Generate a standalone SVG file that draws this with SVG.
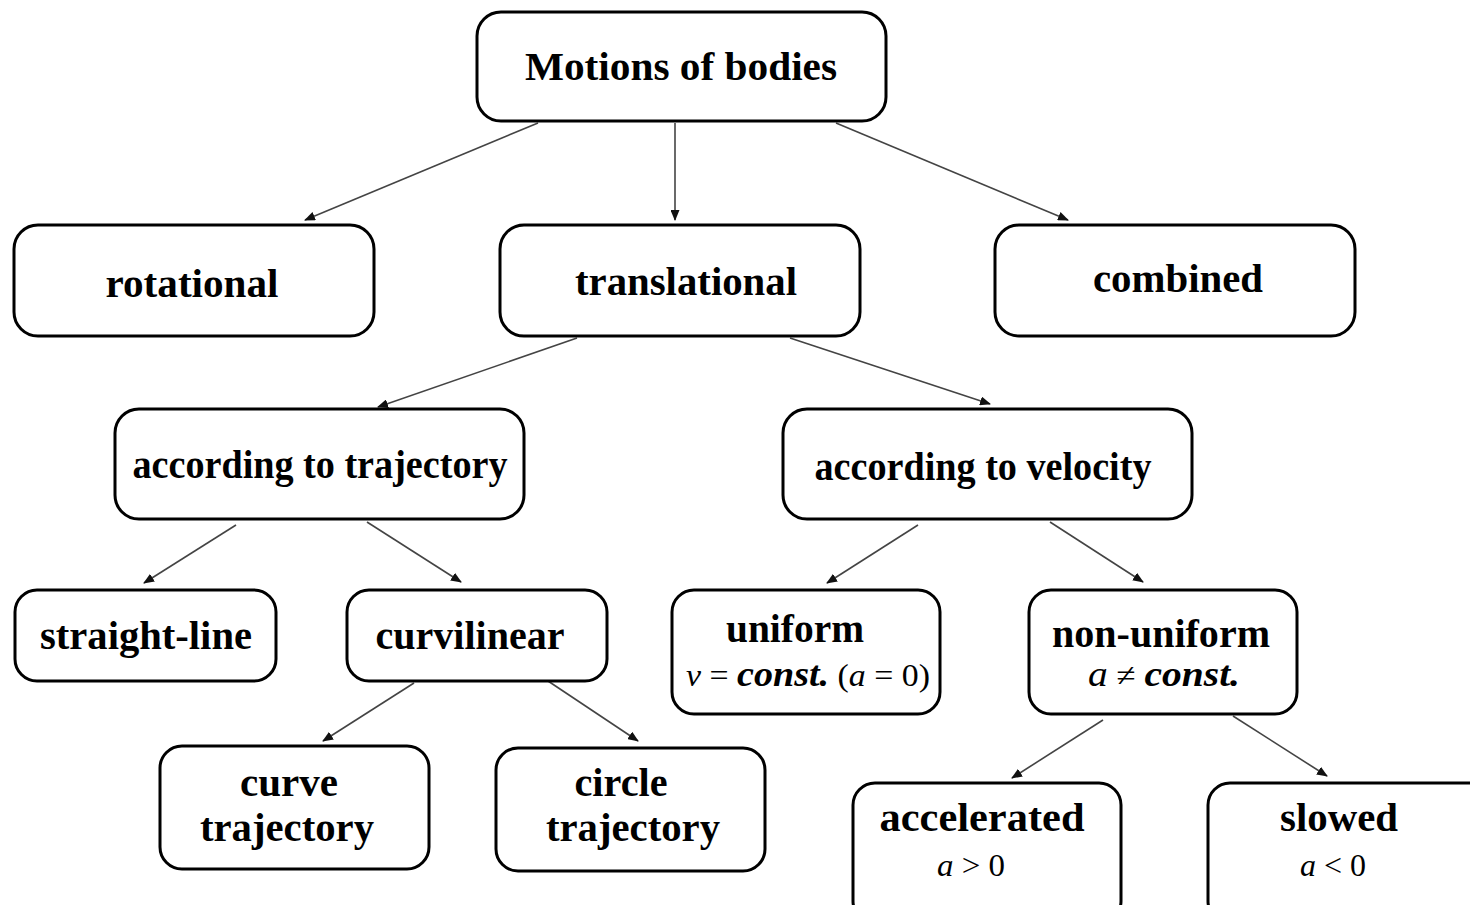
<svg xmlns="http://www.w3.org/2000/svg" width="1470" height="905" viewBox="0 0 1470 905">
<defs>
<marker id="ah" markerWidth="11" markerHeight="9" refX="10" refY="4.5" orient="auto" markerUnits="userSpaceOnUse">
<path d="M0,0 L11,4.5 L0,9 Z" fill="#111"/>
</marker>
<style>
.box{fill:#fff;stroke:#000;stroke-width:3}
.t{font-family:'Liberation Serif',serif;font-weight:bold;font-size:40px;fill:#000;text-anchor:middle}
.f{font-family:'Liberation Serif',serif;font-size:32px;fill:#000}
.i{font-style:italic}
.bi{font-style:italic;font-weight:bold}
.c{stroke:#444;stroke-width:1.6;fill:none;marker-end:url(#ah)}
</style>
</defs>
<rect width="1470" height="905" fill="#fff"/>
<g id="connectors">
<line class="c" x1="538" y1="123" x2="305" y2="220"/>
<line class="c" x1="675" y1="123" x2="675" y2="220"/>
<line class="c" x1="836" y1="123" x2="1068" y2="220"/>
<line class="c" x1="577" y1="338" x2="378" y2="407"/>
<line class="c" x1="790" y1="338" x2="990" y2="404"/>
<line class="c" x1="236" y1="525" x2="144" y2="583"/>
<line class="c" x1="367" y1="522" x2="461" y2="582"/>
<line class="c" x1="918" y1="525" x2="827" y2="583"/>
<line class="c" x1="1050" y1="522" x2="1143" y2="582"/>
<line class="c" x1="414" y1="683" x2="323" y2="741"/>
<line class="c" x1="548" y1="681" x2="638" y2="741"/>
<line class="c" x1="1103" y1="720" x2="1012" y2="778"/>
<line class="c" x1="1233" y1="716" x2="1327" y2="776"/>
</g>
<g id="motions">
<rect class="box" x="477" y="12" width="409" height="109" rx="24"/>
<text class="t" x="681" y="80" textLength="312" lengthAdjust="spacingAndGlyphs">Motions of bodies</text>
</g>
<g id="rotational">
<rect class="box" x="14" y="225" width="360" height="111" rx="24"/>
<text class="t" x="192" y="297" textLength="173" lengthAdjust="spacingAndGlyphs">rotational</text>
</g>
<g id="translational">
<rect class="box" x="500" y="225" width="360" height="111" rx="24"/>
<text class="t" x="686" y="295" textLength="222" lengthAdjust="spacingAndGlyphs">translational</text>
</g>
<g id="combined">
<rect class="box" x="995" y="225" width="360" height="111" rx="24"/>
<text class="t" x="1178" y="292" textLength="170" lengthAdjust="spacingAndGlyphs">combined</text>
</g>
<g id="trajectory">
<rect class="box" x="115" y="409" width="409" height="110" rx="24"/>
<text class="t" x="320" y="478" textLength="375" lengthAdjust="spacingAndGlyphs">according to trajectory</text>
</g>
<g id="velocity">
<rect class="box" x="783" y="409" width="409" height="110" rx="24"/>
<text class="t" x="983" y="480" textLength="337" lengthAdjust="spacingAndGlyphs">according to velocity</text>
</g>
<g id="straight">
<rect class="box" x="15" y="590" width="261" height="91" rx="22"/>
<text class="t" x="146" y="649" textLength="212" lengthAdjust="spacingAndGlyphs">straight-line</text>
</g>
<g id="curvilinear">
<rect class="box" x="347" y="590" width="260" height="91" rx="22"/>
<text class="t" x="470" y="649" textLength="189" lengthAdjust="spacingAndGlyphs">curvilinear</text>
</g>
<g id="uniform">
<rect class="box" x="672" y="590" width="268" height="124" rx="22"/>
<text class="t" x="795" y="642" textLength="138" lengthAdjust="spacingAndGlyphs">uniform</text>
<text class="f" x="686" y="686" textLength="244" lengthAdjust="spacingAndGlyphs"><tspan class="i">v</tspan> = <tspan class="bi" font-size="36">const.</tspan> (<tspan class="i">a</tspan> = 0)</text>
</g>
<g id="nonuniform">
<rect class="box" x="1029" y="590" width="268" height="124" rx="22"/>
<text class="t" x="1161" y="647" textLength="218" lengthAdjust="spacingAndGlyphs">non-uniform</text>
<text class="f" x="1088" y="686" textLength="152" lengthAdjust="spacingAndGlyphs"><tspan class="i" font-size="36">a</tspan> ≠ <tspan class="bi" font-size="36">const.</tspan></text>
</g>
<g id="curve">
<rect class="box" x="160" y="746" width="269" height="123" rx="22"/>
<text class="t" x="289" y="796" textLength="98" lengthAdjust="spacingAndGlyphs">curve</text>
<text class="t" x="287" y="841" textLength="174" lengthAdjust="spacingAndGlyphs">trajectory</text>
</g>
<g id="circle">
<rect class="box" x="496" y="748" width="269" height="123" rx="22"/>
<text class="t" x="621" y="796" textLength="93" lengthAdjust="spacingAndGlyphs">circle</text>
<text class="t" x="633" y="841" textLength="174" lengthAdjust="spacingAndGlyphs">trajectory</text>
</g>
<g id="accelerated">
<rect class="box" x="853" y="783" width="268" height="140" rx="22"/>
<text class="t" x="982" y="831" textLength="205" lengthAdjust="spacingAndGlyphs">accelerated</text>
<text class="f" x="937" y="876" textLength="68" lengthAdjust="spacingAndGlyphs"><tspan class="i">a</tspan> &gt; 0</text>
</g>
<g id="slowed">
<rect class="box" x="1208" y="783" width="290" height="140" rx="22"/>
<text class="t" x="1339" y="831" textLength="118" lengthAdjust="spacingAndGlyphs">slowed</text>
<text class="f" x="1300" y="876" textLength="66" lengthAdjust="spacingAndGlyphs"><tspan class="i">a</tspan> &lt; 0</text>
</g>
</svg>
